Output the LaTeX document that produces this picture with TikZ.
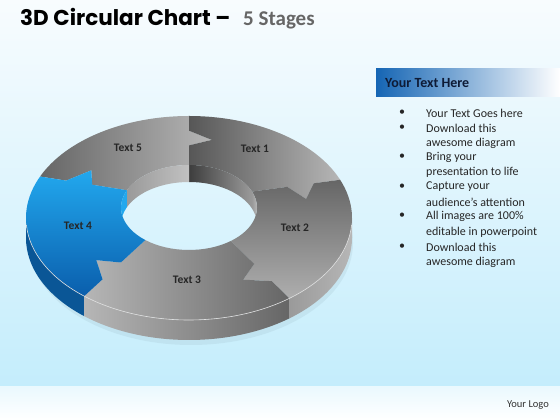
\documentclass[tikz,border=0pt]{standalone}
\usepackage{fontspec}
\setmainfont{Carlito}
\newfontfamily\titlefont{Poppins}
\usetikzlibrary{positioning}

\definecolor{bgtop}{HTML}{F8FCFE}
\definecolor{bgbot}{HTML}{C4EDFC}
\definecolor{stagegray}{HTML}{666666}
\definecolor{ringlight}{HTML}{B6B6B6}
\definecolor{ringmid}{HTML}{9A9A9A}
\definecolor{ringdark}{HTML}{666666}
\definecolor{bluelight}{HTML}{22A8EE}
\definecolor{bluedark}{HTML}{0A5EAC}
\definecolor{blueside}{HTML}{0A5696}
\definecolor{headblue}{HTML}{1565B4}
\definecolor{headtext}{HTML}{0E1B36}

\tikzset{
  seglabel/.style={font=\bfseries\fontsize{11.5}{13}\selectfont, text=black!85},
  bullettext/.style={anchor=west, inner sep=0pt, font=\fontsize{12}{14}\selectfont, text=black!85},
  bulletdot/.style={inner sep=0pt, font=\fontsize{12}{14}\selectfont, text=black!85},
}

\begin{document}
\begin{tikzpicture}[x=1pt,y=1pt]
  % anel 3D com cinco etapas
  \def\rp#1#2{({189+(163-95*(#2))*cos(#1)},{202+10.5*(#2)+(102-59.5*(#2))*sin(#1)})}
  \def\segpath#1#2{\rp{#1}{0} arc[start angle=#1,end angle=#2,x radius=163,y radius=102]
    -- \rp{#2}{.3} -- \rp{#2-11}{.46} -- \rp{#2}{.6} -- \rp{#2}{1}
    arc[start angle=#2,end angle=#1,x radius=68,y radius=42.5]
    -- \rp{#1}{.6} -- \rp{#1-11}{.46} -- \rp{#1}{.3} -- cycle}
  \def\sidepath#1#2{\rp{#1}{0} arc[start angle=#1,end angle=#2,x radius=163,y radius=102]
    -- ++(0,-20) arc[start angle=#2,end angle=#1,x radius=163,y radius=102] -- cycle}
  \def\wallpath#1#2{\rp{#1}{1} arc[start angle=#1,end angle=#2,x radius=68,y radius=42.5]
    -- ++(0,-17) arc[start angle=#2,end angle=#1,x radius=68,y radius=42.5] -- cycle}

  % fundo
  \useasboundingbox (0,0) rectangle (560,420);
  \shade[top color=bgtop, bottom color=bgbot] (0,33) rectangle (560,420);
  \shade[top color=bgbot!35!white, bottom color=white] (0,0) rectangle (560,33);

  % titulo
  \node[anchor=base west, inner sep=0pt, font=\titlefont\bfseries\fontsize{21.5}{24}\selectfont] (title) at (20,394) {3D Circular Chart –};
  \node[anchor=base west, inner sep=0pt, font=\bfseries\fontsize{21}{24}\selectfont, text=stagegray] (stages) at (243,394) {5 Stages};

  % sombra e lados externos
  \fill[bgbot!75!black, opacity=.18, even odd rule] (191,177) ellipse [x radius=162, y radius=102]
    (189,212.5) ellipse [x radius=68, y radius=42.5];
  \fill[blueside] \sidepath{180}{230};
  \shade[left color=ringlight, right color=ringdark] \sidepath{230}{308};
  \shade[left color=ringmid, right color=ringlight] \sidepath{308}{360};

  % faces de cima
  \shade[left color=ringdark, right color=ringlight] \segpath{156}{90};
  \shade[left color=ringdark!85!black, right color=ringlight] \segpath{90}{22};
  \shade[top color=ringdark, bottom color=ringmid!80!white] \segpath{22}{-52};
  \shade[left color=ringlight, right color=ringdark] \segpath{-52}{-130};
  \shade[top color=bluelight, bottom color=bluedark] \segpath{230}{156};
  \draw[white!75!gray, line width=0.6pt] \rp{184}{0} arc[start angle=184,end angle=356,x radius=163,y radius=102];

  % parede interna
  \begin{scope}
    \clip (189,212.5) ellipse [x radius=68, y radius=42.5];
    \shade[left color=ringmid, right color=ringlight] \wallpath{0}{22};
    \shade[left color=ringdark!60!black, right color=ringmid] \wallpath{22}{90};
    \shade[left color=ringmid, right color=ringlight!85!white] \wallpath{90}{156};
    \fill[bluelight] \wallpath{156}{180};
  \end{scope}

  % rotulos
  \node[seglabel] (t1) at (255,271) {Text 1};
  \node[seglabel] (t2) at (295,192) {Text 2};
  \node[seglabel] (t3) at (187,140) {Text 3};
  \node[seglabel] (t4) at (78,194) {Text 4};
  \node[seglabel] (t5) at (128,272) {Text 5};

  % caixa de texto
  \shade[left color=headblue, middle color=headblue!75!white, right color=white] (376,323) rectangle (560,351);
  \node[anchor=west, inner sep=0pt, font=\bfseries\fontsize{14}{16}\selectfont, text=headtext] (head) at (385,337) {Your Text Here};
  \foreach \y in {307,292,263,233,204,173}
    \node[bulletdot] (dot\y) at (402,\y) {•};
  \foreach \y/\txt in {307/Your Text Goes here, 292/Download this, 277/awesome diagram,
      263/Bring your, 248/presentation to life, 233/Capture your, 218/audience’s attention,
      204/All images are 100\%, 188/editable in powerpoint, 173/Download this, 158/awesome diagram}
    \node[bullettext] (line\y) at (426,\y) {\txt};

  \node[font=\fontsize{10.5}{12}\selectfont, text=black!80] (logo) at (528,15) {Your Logo};
\end{tikzpicture}
\end{document}
